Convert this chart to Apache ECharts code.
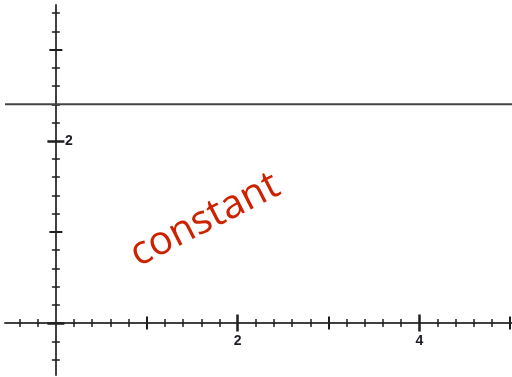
<!DOCTYPE html>
<html>
<head>
<meta charset="utf-8">
<script src="https://cdn.jsdelivr.net/npm/echarts@6/dist/echarts.min.js"></script>
<style>
  html, body { margin: 0; padding: 0; background: #fff; }
  #chart { width: 512px; height: 377px; }
</style>
</head>
<body>
<div id="chart"></div>
<script>
// Visible window of the plane
const xRange = [-0.56, 5.02];
const yRange = [-0.57, 3.49];

// The constant function y = c
const constantValue = 2.4;
const constantX = [-0.56, 5.02];

// Tick labels shown on each axis
const xTickLabels = [2, 4];
const yTickLabels = [2];

// Tick positions: minor every 0.2, odd integers medium, even integers long
function minorTicks(lo, hi) {
  const out = [];
  for (let i = Math.ceil(lo * 5); i <= Math.floor(hi * 5); i++) {
    if (i % 5 !== 0) out.push(i / 5);
  }
  return out;
}
const xMinor = minorTicks(-0.4, 5.0);
const xOdd = [-1, 1, 3, 5].filter(v => v >= xRange[0] && v <= xRange[1]);
const xEven = [2, 4];
const yMinor = minorTicks(-0.4, 3.4);
const yOdd = [1, 3];
const yEven = [0, 2];

const gridBox = { left: 5, right: 0, top: 5, bottom: 2 };
const axisColor = '#404040';
const tickColor = '#1e1e1e';
const labelFont = { fontFamily: 'Liberation Sans', fontWeight: 'bold', fontSize: 14, color: '#1c1c24' };

// One axis layer draws one family of ticks on one side of the axis line
function layer(dim, ticks, len, width, inside, primary) {
  const range = dim === 'x' ? xRange : yRange;
  return {
    type: 'value', min: range[0], max: range[1],
    position: dim === 'x' ? 'bottom' : 'left',
    axisLine: { show: true, onZero: true, onZeroAxisIndex: 0,
      lineStyle: { color: axisColor, width: 2, opacity: primary ? 1 : 0 } },
    axisTick: { show: true, inside: inside, length: len, customValues: ticks,
      lineStyle: { color: tickColor, width: width } },
    axisLabel: { show: false },
    splitLine: { show: false }
  };
}
// Label-only axis, shifted onto the zero line of the other axis
function labelAxis(dim, values, offset, extra) {
  const range = dim === 'x' ? xRange : yRange;
  return {
    type: 'value', min: range[0], max: range[1],
    position: dim === 'x' ? 'bottom' : 'left',
    offset: offset,
    axisLine: { show: false, onZero: false },
    axisTick: { show: false },
    axisLabel: Object.assign({ show: true, customValues: values }, labelFont, extra),
    splitLine: { show: false }
  };
}

function buildAxes(dim, ticks3) {
  return [
    layer(dim, ticks3[0], 4, 1.5, false, true),
    layer(dim, ticks3[0], 4, 1.5, true, false),
    layer(dim, ticks3[1], 6.5, 2, false, false),
    layer(dim, ticks3[1], 6.5, 2, true, false),
    layer(dim, ticks3[2], 8.5, 2.5, false, false),
    layer(dim, ticks3[2], 8.5, 2.5, true, false)
  ];
}

const chart = echarts.init(document.getElementById('chart'), null, { renderer: 'canvas' });
const option = {
  animation: false,
  backgroundColor: '#ffffff',
  grid: Object.assign({ containLabel: false, outerBoundsMode: 'none' }, gridBox),
  xAxis: buildAxes('x', [xMinor, xOdd, xEven]),
  yAxis: buildAxes('y', [yMinor, yOdd, yEven]),
  series: [{
    type: 'line',
    xAxisIndex: 0, yAxisIndex: 0,
    data: constantX.map(x => [x, constantValue]),
    showSymbol: false,
    symbol: 'none',
    lineStyle: { color: '#444', width: 2 },
    z: 1
  }],
  graphic: [{
    type: 'text',
    x: 205, y: 220,
    rotation: 27 * Math.PI / 180,
    style: {
      text: 'constant',
      fontFamily: 'Open Sans',
      fontSize: 40,
      fill: '#cc2200',
      align: 'center', verticalAlign: 'middle',
      textAlign: 'center', textVerticalAlign: 'middle'
    }
  }]
};
chart.setOption(option);

// Place the tick labels along the axes that cross at the origin
const zeroX = chart.convertToPixel({ xAxisIndex: 0 }, 0);
const zeroY = chart.convertToPixel({ yAxisIndex: 0 }, 0);
const gridBottomPx = 377 - gridBox.bottom;
option.xAxis.push(labelAxis('x', xTickLabels, zeroY - gridBottomPx, { margin: 11 }));
option.yAxis.push(labelAxis('y', yTickLabels, gridBox.left - zeroX, { margin: 9, inside: true }));
chart.setOption(option, true);
</script>
</body>
</html>
